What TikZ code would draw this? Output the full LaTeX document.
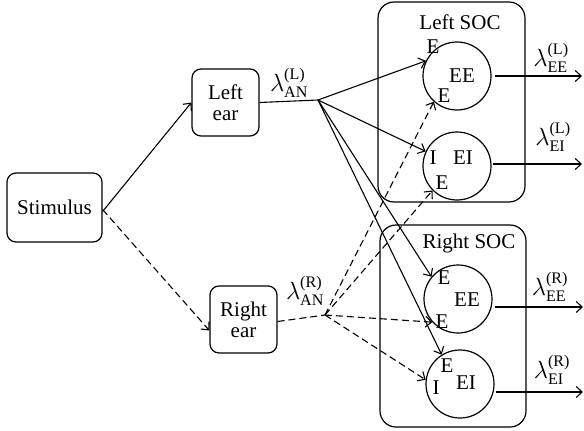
\documentclass[tikz,border=0pt]{standalone}
\usepackage{amsmath}
\usepackage{fontspec}
\setmainfont{Liberation Serif}
\usetikzlibrary{arrows.meta}
\begin{document}
\begin{tikzpicture}[x=1pt,y=-1pt,
  every node/.style={font=\fontsize{21}{23}\selectfont},
  box/.style={draw,rounded corners=9pt,line width=1.2pt,inner sep=0pt,align=center},
  socbox/.style={draw,rounded corners=16pt,line width=1.2pt,inner sep=0pt},
  cell/.style={draw,circle,line width=1.2pt,minimum size=68pt,inner sep=0pt},
  lbl/.style={inner sep=0pt},
  lam/.style={inner sep=0pt,font=\fontsize{23}{25}\selectfont},
  conn/.style={line width=1.1pt,-{Straight Barb[length=6pt,width=11pt,line width=1.1pt]}},
  dconn/.style={conn,dash pattern=on 7pt off 4pt},
  plain/.style={line width=1.1pt},
  dplain/.style={line width=1.1pt,dash pattern=on 7pt off 4pt}]
\useasboundingbox (0,0) rectangle (584,431);
% boxes
\node[box,minimum width=95pt,minimum height=69pt] (stim) at (54.5,207.5) {Stimulus};
\node[box,minimum width=67pt,minimum height=67pt] (lear) at (225.5,102.5) {Left\\[-2pt]ear};
\node[box,minimum width=67pt,minimum height=67pt] (rear) at (243.5,319.5) {Right\\[-2pt]ear};
\node[socbox,minimum width=147pt,minimum height=200pt] (socL) at (451.5,102) {};
\node[socbox,minimum width=146pt,minimum height=202pt] (socR) at (453,326) {};
\node[lbl] (socLt) at (460,22) {Left SOC};
\node[lbl] (socRt) at (469,243) {Right SOC};
% cells
\node[cell] (eeL) at (457,76) {};
\node[cell] (eiL) at (457,166) {};
\node[cell] (eeR) at (458,299) {};
\node[cell] (eiR) at (460,384) {};
% cell texts
\node[lbl] (eeLt) at (462,76) {EE};
\node[lbl] (eeLa) at (433,47) {E};
\node[lbl] (eeLb) at (444,96) {E};
\node[lbl] (eiLt) at (463,158) {EI};
\node[lbl] (eiLa) at (433,158) {I};
\node[lbl] (eiLb) at (442,183) {E};
\node[lbl] (eeRt) at (467,300) {EE};
\node[lbl] (eeRa) at (444,278) {E};
\node[lbl] (eeRb) at (442,322) {E};
\node[lbl] (eiRt) at (466,383) {EI};
\node[lbl] (eiRa) at (447,366) {E};
\node[lbl] (eiRb) at (436,388) {I};
% junctions
\coordinate (jL) at (318,100);
\coordinate (jR) at (325,315);
% lambda labels
\node[lam] (lamL) at (289,83) {$\lambda^{\textrm{(L)}}_{\textrm{AN}}$};
\node[lam] (lamR) at (305,291) {$\lambda^{\textrm{(R)}}_{\textrm{AN}}$};
\node[lam] (lamEEL) at (551,58) {$\lambda^{\textrm{(L)}}_{\textrm{EE}}$};
\node[lam] (lamEIL) at (553,137) {$\lambda^{\textrm{(L)}}_{\textrm{EI}}$};
\node[lam] (lamEER) at (550,287) {$\lambda^{\textrm{(R)}}_{\textrm{EE}}$};
\node[lam] (lamEIR) at (552,370) {$\lambda^{\textrm{(R)}}_{\textrm{EI}}$};
% output ends
\coordinate (oEEL) at (582,76);
\coordinate (oEIL) at (582,164);
\coordinate (oEER) at (583,307);
\coordinate (oEIR) at (583,392);
% stimulus to ears
\draw[conn] ([yshift=-4pt]stim.east) -- (lear.west);
\draw[dconn] ([yshift=-2pt]stim.east) -- ([yshift=-11pt]rear.west);
% ear lines
\draw[plain] (lear.east) -- (jL);
\draw[dplain] ([yshift=-2pt]rear.east) -- (jR);
% solid fan
\draw[conn] (jL) -- (eeL.154);
\draw[conn] (jL) -- (eiL.155);
\draw[conn] (jL) -- (eeR.140);
\draw[conn] (jL) -- (eiR.122);
% dashed fan
\draw[dconn] (jR) -- (eeL.228);
\draw[dconn] (jR) -- (eiL.225);
\draw[dconn] (jR) -- (eeR.222);
\draw[dconn] (jR) -- (eiR.173);
% outputs
\draw[conn] ([xshift=3pt]eeL.east |- oEEL) -- (oEEL);
\draw[conn] ([xshift=1pt]eiL.east |- oEIL) -- (oEIL);
\draw[conn] ([xshift=2pt]eeR.east |- oEER) -- (oEER);
\draw[conn] ([xshift=1pt]eiR.east |- oEIR) -- (oEIR);
\end{tikzpicture}
\end{document}
